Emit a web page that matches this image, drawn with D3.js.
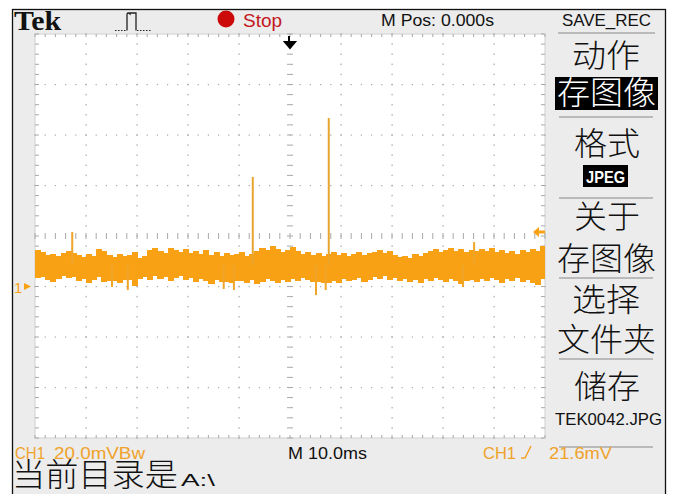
<!DOCTYPE html>
<html><head><meta charset="utf-8">
<script src="https://cdn.jsdelivr.net/npm/d3@7/dist/d3.min.js"></script>
<style>
html,body{margin:0;padding:0;background:#fff;}
svg{display:block;}
</style></head>
<body>
<svg id="c" width="676" height="494"></svg>
<script>
const timeDomainMs = [-50, 50];          // 10.0 ms/div, 10 divisions
const voltDomainMv = [-60, 100];         // 20.0 mV/div, ground 1 div below centre
const binStartMs = d3.range(-50, 50, 1); // 1 ms bins across the screen
const bandTopMv = [14.5,13.7,12.5,12.9,12.1,13.3,14.1,13.3,12.5,11.7,
  12.9,12.1,14.9,14.1,12.5,11.7,12.9,12.1,12.5,13.7,
  11.3,12.1,14.5,15.2,14.1,13.3,15.2,14.5,13.7,14.9,
  13.3,14.1,12.9,14.5,12.5,13.7,12.1,13.3,12.5,12.9,
  13.7,12.1,12.9,14.1,15.2,14.5,16.0,14.9,13.7,14.5,
  15.6,14.1,12.9,13.7,12.5,13.3,12.1,12.9,13.7,12.5,
  13.3,12.1,12.9,13.7,12.5,13.3,13.7,14.5,13.3,14.1,
  12.5,11.7,12.1,11.3,12.9,12.1,13.3,14.1,14.9,13.7,
  14.5,15.2,14.1,14.9,13.7,14.5,14.1,14.9,14.1,15.2,
  13.7,14.5,13.3,14.1,12.9,14.5,13.7,14.9,14.1,16.0];
const bandBottomMv = [3.4,3.8,2.6,1.8,3.0,4.2,3.4,3.8,2.2,3.0,
  1.4,2.6,3.8,1.8,2.2,2.2,1.4,2.6,2.6,0.2,
  3.0,3.8,2.6,4.2,3.0,3.8,2.2,3.4,4.2,2.6,
  3.4,1.8,3.0,2.2,1.0,2.6,1.8,1.8,1.4,2.2,
  2.2,1.4,2.6,1.0,1.8,3.0,2.2,1.4,2.6,1.8,
  3.0,2.2,3.4,2.6,1.8,1.8,1.4,1.4,2.2,1.4,
  3.0,2.2,2.6,3.4,1.8,2.6,3.8,3.0,4.2,2.6,
  3.4,2.2,3.0,1.8,2.6,1.4,3.0,2.2,3.4,2.6,
  1.8,3.0,2.2,1.0,2.2,2.6,1.8,3.0,2.2,3.4,
  2.6,1.4,3.0,2.2,3.4,1.8,2.6,1.4,0.6,3.0];
const glitchTimesMs = [-42.7, -34.9, -31.8, -13.0, -11.0, 5.1, 7.0, 33.9, 36.1];
const glitchPeaksMv = [21.6, -0.2, -1.4, -1.0, -1.4, -3.4, -1.4, -0.2, 17.6];
const spikeTimesMs = [-7.3, 7.6];
const spikePeaksMv = [43.4, 66.7];
const baselineMv = 8.5;
const triggerLevelMv = 21.6;
const menuItems = ["动作", "存图像", "格式", "JPEG", "关于", "存图像", "选择", "文件夹", "储存", "TEK0042.JPG"];

// ---- drawing ----
const svg = d3.select("#c");
const W = 676, H = 494;
const orange = "#f8a114", grid = "#a8a8a8";
const x = d3.scaleLinear().domain(timeDomainMs).range([35, 545]);
const y = d3.scaleLinear().domain(voltDomainMv).range([438, 34]);

svg.append("rect").attr("width", W).attr("height", H).attr("fill", "#fff");
svg.append("rect").attr("x", 12.5).attr("y", 9.5).attr("width", 653).attr("height", 490)
  .attr("fill", "#ececec").attr("stroke", "#111").attr("stroke-width", 1.3);
svg.append("rect").attr("x", x(-50)).attr("y", y(100)).attr("width", x(50) - x(-50)).attr("height", y(-60) - y(100))
  .attr("fill", "#fff").attr("stroke", "#cfcfcf").attr("stroke-width", 1);

// grid
const g = svg.append("g");
const majorT = d3.range(-40, 50, 10), majorV = d3.range(-40, 100, 20);
const minorT = d3.range(-50, 50.01, 2), minorV = d3.range(-60, 100.01, 4);
majorT.filter(t => t !== 0).forEach(t => {
  minorV.forEach(v => g.append("rect").attr("x", x(t) - 0.5).attr("y", y(v) - 0.75).attr("width", 1.2).attr("height", 1.5).attr("fill", grid));
});
majorV.filter(v => v !== 20).forEach(v => {
  minorT.forEach(t => g.append("rect").attr("x", x(t) - 0.6).attr("y", y(v) - 0.5).attr("width", 1.2).attr("height", 1.2).attr("fill", grid));
});
minorV.forEach(v => g.append("line").attr("x1", x(0) - 3).attr("x2", x(0) + 3).attr("y1", y(v)).attr("y2", y(v)).attr("stroke", grid));
minorT.forEach(t => g.append("line").attr("x1", x(t)).attr("x2", x(t)).attr("y1", y(20) - 3).attr("y2", y(20) + 3).attr("stroke", grid));
minorT.forEach(t => {
  g.append("line").attr("x1", x(t)).attr("x2", x(t)).attr("y1", y(100)).attr("y2", y(100) + 3).attr("stroke", grid);
  g.append("line").attr("x1", x(t)).attr("x2", x(t)).attr("y1", y(-60)).attr("y2", y(-60) - 3).attr("stroke", grid);
});
minorV.forEach(v => {
  g.append("line").attr("x1", x(-50)).attr("x2", x(-50) + 4).attr("y1", y(v)).attr("y2", y(v)).attr("stroke", grid);
  g.append("line").attr("x1", x(50)).attr("x2", x(50) - 4).attr("y1", y(v)).attr("y2", y(v)).attr("stroke", grid);
});

// trace band
const tr = svg.append("g").attr("shape-rendering", "crispEdges");
binStartMs.forEach((t, i) => {
  const w = Math.min(x(t + 1) - x(t) + 1, x(50) - x(t));
  tr.append("rect").attr("x", x(t)).attr("width", w)
    .attr("y", y(bandTopMv[i])).attr("height", y(bandBottomMv[i]) - y(bandTopMv[i]))
    .attr("fill", orange);
});
const sp = svg.append("g");
glitchTimesMs.forEach((t, i) => {
  sp.append("line").attr("x1", x(t)).attr("x2", x(t)).attr("y1", y(baselineMv)).attr("y2", y(glitchPeaksMv[i]))
    .attr("stroke", "#eea529").attr("stroke-width", 2);
});
spikeTimesMs.forEach((t, i) => {
  sp.append("line").attr("x1", x(t)).attr("x2", x(t)).attr("y1", y(baselineMv)).attr("y2", y(spikePeaksMv[i]))
    .attr("stroke", "#e9a42c").attr("stroke-width", 2);
});

// markers
svg.append("text").attr("x", 14).attr("y", y(0) + 6).attr("font-family", "Liberation Sans").attr("font-size", 15).attr("fill", orange).text("1");
svg.append("path").attr("d", `M24,${y(0) - 3.5}L31,${y(0)}L24,${y(0) + 3.5}Z`).attr("fill", orange);
const ty = y(triggerLevelMv);
svg.append("path").attr("d", `M533,${ty}L539,${ty - 5}L539,${ty - 1.5}L545,${ty - 1.5}L545,${ty + 1.5}L539,${ty + 1.5}L539,${ty + 5}Z`).attr("fill", orange);
svg.append("path").attr("d", `M289,36V43M285,42L290,48L295,42Z`).attr("stroke", "#000").attr("stroke-width", 2).attr("fill", "#000");

// text helper
function txt(s, x0, yb, size, len, opts = {}) {
  const t = svg.append("text").attr("x", x0).attr("y", yb).attr("font-size", size)
    .attr("font-family", opts.family || "Liberation Sans").attr("fill", opts.fill || "#111")
    .attr("font-weight", opts.weight || "normal").text(s);
  if (len) t.attr("textLength", len).attr("lengthAdjust", "spacingAndGlyphs");
  return t;
}
// top bar
txt("Tek", 14, 30, 27, 47, {family: "Liberation Serif", weight: "bold"});
svg.append("path").attr("d", "M115,30.5H127").attr("stroke", "#222").attr("stroke-dasharray", "1.5,1.5");
svg.append("path").attr("d", "M127,30.5V14Q128,12 130,14V13H136V30.5").attr("stroke", "#222").attr("fill", "none").attr("stroke-width", 1.3);
svg.append("path").attr("d", "M137,30.5H152").attr("stroke", "#222").attr("stroke-dasharray", "1.5,1.5");
svg.append("circle").attr("cx", 226).attr("cy", 19).attr("r", 8.5).attr("fill", "#cc0a0a");
txt("Stop", 243, 27, 18, 39, {fill: "#c4161c"});
txt("M Pos: 0.000s", 381, 26, 17, 113);
txt("SAVE_REC", 562, 26, 17, 89);
svg.append("line").attr("x1", 558).attr("x2", 655).attr("y1", 33).attr("y2", 33).attr("stroke", "#aaa").attr("stroke-width", 1.5);

// menu
const cjk = "Noto Sans CJK SC";
const lw = 300;
txt(menuItems[0], 572, 67, 32, 68, {family: cjk, weight: lw});
svg.append("rect").attr("x", 555).attr("y", 77).attr("width", 103).attr("height", 33).attr("fill", "#000");
txt(menuItems[1], 557, 104, 32, 99, {family: cjk, fill: "#fff", weight: lw});
[117, 198, 278, 359, 447].forEach(ly => svg.append("line").attr("x1", 559).attr("x2", 653).attr("y1", ly).attr("y2", ly).attr("stroke", "#aaa").attr("stroke-width", 1.5));
txt(menuItems[2], 574, 155, 32, 66, {family: cjk, weight: lw});
svg.append("rect").attr("x", 583).attr("y", 165).attr("width", 45).attr("height", 22).attr("fill", "#000");
txt(menuItems[3], 586, 183, 17, 39, {fill: "#fff", weight: "bold"});
txt(menuItems[4], 574, 228, 32, 66, {family: cjk, weight: lw});
txt(menuItems[5], 557, 270, 32, 99, {family: cjk, weight: lw});
txt(menuItems[6], 572, 311, 32, 68, {family: cjk, weight: lw});
txt(menuItems[7], 557, 351, 32, 99, {family: cjk, weight: lw});
txt(menuItems[8], 574, 398, 32, 66, {family: cjk, weight: lw});
txt(menuItems[9], 555, 425, 17, 107);

// bottom bar
txt("CH1", 15, 459, 17, 30, {fill: "#f0a22a"});
txt("20.0mVBw", 54, 459, 17, 91, {fill: "#f0a22a"});
txt("M 10.0ms", 288, 459, 17, 79);
txt("CH1", 483, 459, 17, 33, {fill: "#f0a22a"});
svg.append("path").attr("d", "M521,458H525L531,446").attr("stroke", "#f0a22a").attr("stroke-width", 1.5).attr("fill", "none");
txt("21.6mV", 549, 459, 17, 63, {fill: "#f0a22a"});
txt("当前目录是", 12, 486, 32, 166, {family: cjk, weight: lw});
txt("A:\\", 181, 486, 17, 34);
</script>
</body></html>
